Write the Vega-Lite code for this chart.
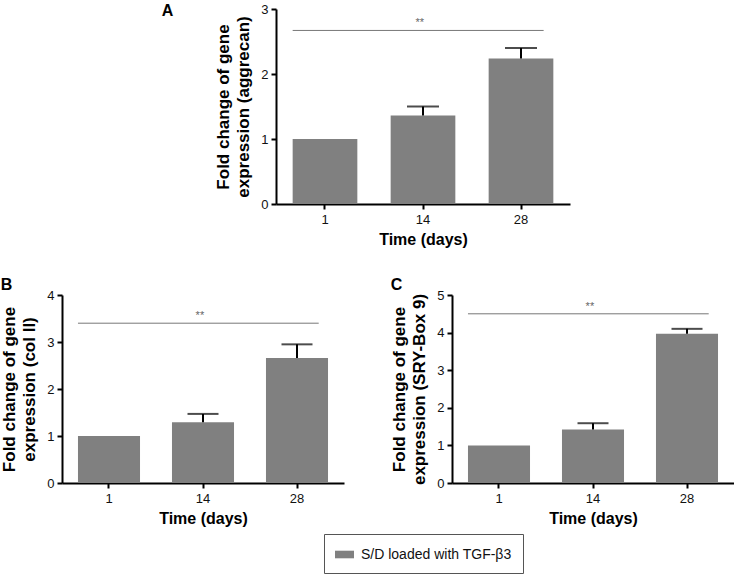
{
  "$schema": "https://vega.github.io/schema/vega-lite/v6.json",
  "padding": {"left": 0, "top": 3, "right": 0, "bottom": 0},
  "background": "white",
  "config": {
    "view": {"stroke": null},
    "font": "Liberation Sans",
    "axis": {"domainColor": "#000", "domainWidth": 2, "tickColor": "#000", "tickWidth": 2, "tickSize": 5, "labelFont": "Liberation Sans", "labelFontSize": 13, "labelColor": "#111", "titleFont": "Liberation Sans", "titleFontSize": 17, "titleFontWeight": "bold", "titleColor": "#000", "grid": false, "labelOverlap": false},
    "axisX": {"labelAngle": 0, "labelPadding": 4, "titlePadding": 5, "titleFontSize": 16},
    "axisY": {"labelPadding": 3, "titlePadding": 8, "titleLineHeight": 20, "format": "d"},
    "title": {"fontSize": 16, "fontWeight": "bold", "anchor": "start", "frame": "bounds", "color": "#000", "font": "Liberation Sans"}
  },
  "datasets": {
    "A": [
      {"day": "1", "value": 1.0, "upper": null, "group": "S/D loaded with TGF-β3"},
      {"day": "14", "value": 1.36, "upper": 1.5, "group": "S/D loaded with TGF-β3"},
      {"day": "28", "value": 2.24, "upper": 2.4, "group": "S/D loaded with TGF-β3"}
    ],
    "B": [
      {"day": "1", "value": 1.0, "upper": null, "group": "S/D loaded with TGF-β3"},
      {"day": "14", "value": 1.29, "upper": 1.47, "group": "S/D loaded with TGF-β3"},
      {"day": "28", "value": 2.66, "upper": 2.95, "group": "S/D loaded with TGF-β3"}
    ],
    "C": [
      {"day": "1", "value": 1.0, "upper": null, "group": "S/D loaded with TGF-β3"},
      {"day": "14", "value": 1.42, "upper": 1.59, "group": "S/D loaded with TGF-β3"},
      {"day": "28", "value": 3.97, "upper": 4.1, "group": "S/D loaded with TGF-β3"}
    ],
    "sigA": [{"start": "1", "end": "28", "mid": "14", "y": 2.67, "label": "**"}],
    "sigB": [{"start": "1", "end": "28", "mid": "14", "y": 3.4, "label": "**"}],
    "sigC": [{"start": "1", "end": "28", "mid": "14", "y": 4.5, "label": "**"}]
  },
  "vconcat": [
    {
      "hconcat": [
        {"width": 79, "height": 10, "data": {"values": []}, "mark": {"type": "point", "opacity": 0}},
        {
          "width": 294, "height": 195,
          "title": {"text": "A", "orient": "left", "angle": 0, "anchor": "end", "align": "right", "baseline": "top", "offset": 30, "frame": "bounds"},
          "layer": [
            {"data": {"name": "A"}, "mark": {"type": "bar"},
             "encoding": {
               "x": {"field": "day", "type": "ordinal", "title": "Time (days)", "scale": {"domain": ["1", "14", "28"], "paddingInner": 0.34, "paddingOuter": 0.17}},
               "y": {"field": "value", "type": "quantitative", "title": ["Fold change of gene", "expression (aggrecan)"], "scale": {"domain": [0, 3]}, "axis": {"values": [0, 1, 2, 3], "labelOverlap": false}},
               "color": {"field": "group", "type": "nominal", "scale": {"domain": ["S/D loaded with TGF-β3"], "range": ["#808080"]},
                 "legend": {"title": null, "orient": "none", "legendX": 262, "legendY": 525, "strokeColor": "#555", "padding": 11, "labelFontSize": 14, "labelFont": "Liberation Sans", "labelColor": "#111", "labelOffset": 7, "symbolType": "M-1,-0.4H1V0.4H-1Z", "symbolSize": 361, "symbolStrokeWidth": 0}}
             }},
            {"data": {"name": "A"}, "transform": [{"filter": "datum.upper != null"}], "mark": {"type": "rule", "color": "#000", "strokeWidth": 2},
             "encoding": {
               "x": {"field": "day", "type": "ordinal", "title": "Time (days)"},
               "y": {"field": "value", "type": "quantitative", "title": ["Fold change of gene", "expression (aggrecan)"]},
               "y2": {"field": "upper"}
             }},
            {"data": {"name": "A"}, "transform": [{"filter": "datum.upper != null"}], "mark": {"type": "tick", "color": "#000", "thickness": 2, "size": 32},
             "encoding": {
               "x": {"field": "day", "type": "ordinal", "title": "Time (days)"},
               "y": {"field": "upper", "type": "quantitative", "title": ["Fold change of gene", "expression (aggrecan)"]}
             }},
            {"data": {"name": "sigA"}, "mark": {"type": "rule", "color": "#777", "strokeWidth": 1},
             "encoding": {
               "x": {"field": "start", "type": "ordinal", "bandPosition": 0, "title": "Time (days)"},
               "x2": {"field": "end", "bandPosition": 0.85},
               "y": {"field": "y", "type": "quantitative", "title": ["Fold change of gene", "expression (aggrecan)"]}
             }},
            {"data": {"name": "sigA"}, "mark": {"type": "text", "color": "#666", "fontSize": 11, "baseline": "middle", "dy": -7},
             "encoding": {
               "x": {"field": "mid", "type": "ordinal", "bandPosition": 0.45, "title": "Time (days)"},
               "y": {"field": "y", "type": "quantitative", "title": ["Fold change of gene", "expression (aggrecan)"]},
               "text": {"field": "label"}
             }}
          ]
        }
      ],
      "spacing": 20,
      "align": "each"
    },
    {
      "hconcat": [
        {
          "width": 282, "height": 188,
          "title": {"text": "B", "offset": -4},
          "layer": [
            {"data": {"name": "B"}, "mark": {"type": "bar"},
             "encoding": {
               "x": {"field": "day", "type": "ordinal", "title": "Time (days)", "scale": {"domain": ["1", "14", "28"], "paddingInner": 0.34, "paddingOuter": 0.17}},
               "y": {"field": "value", "type": "quantitative", "title": ["Fold change of gene", "expression (col II)"], "scale": {"domain": [0, 4]}, "axis": {"values": [0, 1, 2, 3, 4], "labelOverlap": false}},
               "color": {"field": "group", "type": "nominal", "scale": {"domain": ["S/D loaded with TGF-β3"], "range": ["#808080"]},
                 "legend": {"title": null, "orient": "none", "legendX": 262, "legendY": 525, "strokeColor": "#555", "padding": 11, "labelFontSize": 14, "labelFont": "Liberation Sans", "labelColor": "#111", "labelOffset": 7, "symbolType": "M-1,-0.4H1V0.4H-1Z", "symbolSize": 361, "symbolStrokeWidth": 0}}
             }},
            {"data": {"name": "B"}, "transform": [{"filter": "datum.upper != null"}], "mark": {"type": "rule", "color": "#000", "strokeWidth": 2},
             "encoding": {
               "x": {"field": "day", "type": "ordinal", "title": "Time (days)"},
               "y": {"field": "value", "type": "quantitative", "title": ["Fold change of gene", "expression (col II)"]},
               "y2": {"field": "upper"}
             }},
            {"data": {"name": "B"}, "transform": [{"filter": "datum.upper != null"}], "mark": {"type": "tick", "color": "#000", "thickness": 2, "size": 31},
             "encoding": {
               "x": {"field": "day", "type": "ordinal", "title": "Time (days)"},
               "y": {"field": "upper", "type": "quantitative", "title": ["Fold change of gene", "expression (col II)"]}
             }},
            {"data": {"name": "sigB"}, "mark": {"type": "rule", "color": "#777", "strokeWidth": 1},
             "encoding": {
               "x": {"field": "start", "type": "ordinal", "bandPosition": 0, "title": "Time (days)"},
               "x2": {"field": "end", "bandPosition": 0.85},
               "y": {"field": "y", "type": "quantitative", "title": ["Fold change of gene", "expression (col II)"]}
             }},
            {"data": {"name": "sigB"}, "mark": {"type": "text", "color": "#666", "fontSize": 11, "baseline": "middle", "dy": -7},
             "encoding": {
               "x": {"field": "mid", "type": "ordinal", "bandPosition": 0.45, "title": "Time (days)"},
               "y": {"field": "y", "type": "quantitative", "title": ["Fold change of gene", "expression (col II)"]},
               "text": {"field": "label"}
             }}
          ]
        },
        {
          "width": 282, "height": 188,
          "title": {"text": "C", "offset": -4},
          "layer": [
            {"data": {"name": "C"}, "mark": {"type": "bar"},
             "encoding": {
               "x": {"field": "day", "type": "ordinal", "title": "Time (days)", "scale": {"domain": ["1", "14", "28"], "paddingInner": 0.34, "paddingOuter": 0.17}},
               "y": {"field": "value", "type": "quantitative", "title": ["Fold change of gene", "expression (SRY-Box 9)"], "scale": {"domain": [0, 5]}, "axis": {"values": [0, 1, 2, 3, 4, 5], "labelOverlap": false, "tickCount": 6}},
               "color": {"field": "group", "type": "nominal", "scale": {"domain": ["S/D loaded with TGF-β3"], "range": ["#808080"]},
                 "legend": {"title": null, "orient": "none", "legendX": 262, "legendY": 525, "strokeColor": "#555", "padding": 11, "labelFontSize": 14, "labelFont": "Liberation Sans", "labelColor": "#111", "labelOffset": 7, "symbolType": "M-1,-0.4H1V0.4H-1Z", "symbolSize": 361, "symbolStrokeWidth": 0}}
             }},
            {"data": {"name": "C"}, "transform": [{"filter": "datum.upper != null"}], "mark": {"type": "rule", "color": "#000", "strokeWidth": 2},
             "encoding": {
               "x": {"field": "day", "type": "ordinal", "title": "Time (days)"},
               "y": {"field": "value", "type": "quantitative", "title": ["Fold change of gene", "expression (SRY-Box 9)"]},
               "y2": {"field": "upper"}
             }},
            {"data": {"name": "C"}, "transform": [{"filter": "datum.upper != null"}], "mark": {"type": "tick", "color": "#000", "thickness": 2, "size": 31},
             "encoding": {
               "x": {"field": "day", "type": "ordinal", "title": "Time (days)"},
               "y": {"field": "upper", "type": "quantitative", "title": ["Fold change of gene", "expression (SRY-Box 9)"]}
             }},
            {"data": {"name": "sigC"}, "mark": {"type": "rule", "color": "#777", "strokeWidth": 1},
             "encoding": {
               "x": {"field": "start", "type": "ordinal", "bandPosition": 0, "title": "Time (days)"},
               "x2": {"field": "end", "bandPosition": 0.85},
               "y": {"field": "y", "type": "quantitative", "title": ["Fold change of gene", "expression (SRY-Box 9)"]}
             }},
            {"data": {"name": "sigC"}, "mark": {"type": "text", "color": "#666", "fontSize": 11, "baseline": "middle", "dy": -7},
             "encoding": {
               "x": {"field": "mid", "type": "ordinal", "bandPosition": 0.45, "title": "Time (days)"},
               "y": {"field": "y", "type": "quantitative", "title": ["Fold change of gene", "expression (SRY-Box 9)"]},
               "text": {"field": "label"}
             }}
          ]
        }
      ],
      "spacing": 46,
      "align": "each"
    }
  ],
  "spacing": 30,
  "align": "each"
}
